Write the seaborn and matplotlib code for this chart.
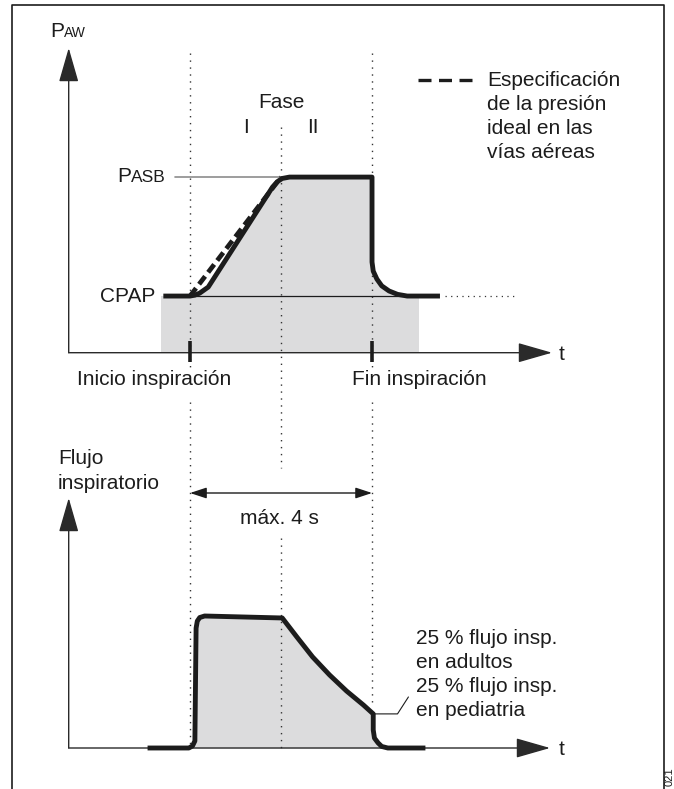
import matplotlib
matplotlib.use("Agg")
import matplotlib.pyplot as plt
from matplotlib.transforms import blended_transform_factory
import seaborn as sns

# ── data: time units, airway pressure (mbar), inspiratory flow (L/min) ──────
t_start, t_phase, t_end = 1.0, 1.75, 2.5
cpap = 5.0
pasb = 15.5

press_t = [0.78, 1.00, 1.04, 1.08, 1.15, 1.68, 1.72, 1.76, 1.82, 2.50, 2.50,
           2.51, 2.54, 2.58, 2.64, 2.71, 2.79, 3.06]
press_p = [5.0, 5.0, 5.08, 5.26, 5.79, 14.62, 15.1, 15.38, 15.5, 15.5, 8.0,
           7.2, 6.5, 5.9, 5.45, 5.15, 5.0, 5.0]
ideal_t = [1.00, 1.75]
ideal_p = [5.0, 15.5]
cpap_dotted_t = [3.10, 3.68]
base_fill_t = [0.76, 2.89]

flow_t = [0.65, 0.99, 1.02, 1.04, 1.05, 1.06, 1.08, 1.12, 1.76, 1.88, 2.01,
          2.15, 2.29, 2.43, 2.51, 2.51, 2.52, 2.55, 2.58, 2.63, 2.94]
flow_v = [0, 0, 0.9, 3.2, 54.5, 57.7, 59.3, 60.0, 59.1, 50.5, 41.4,
          33.2, 25.9, 19.5, 15.5, 8.2, 4.5, 2.3, 0.7, 0, 0]
leader_t = [2.51, 2.71, 2.80]
leader_f = [15.5, 15.5, 23.2]

legend_lines = ["Especificación", "de la presión", "ideal en las", "vías aéreas"]
note_lines = ["25 % flujo insp.", "en adultos", "25 % flujo insp.", "en pediatria"]

# ── layout (figure pixels) ───────────────────────────────────────────────────
W, H = 674, 789
X0, KX = 68.7, 121.33      # px of t=0, px per time unit
P0, KP = 352.7, 11.33      # px of p=0, px per mbar
F0, KF = 748.0, 2.2        # px of flow=0, px per L/min
INK = "#1c1c1c"
GREY = "#dcdcdd"
FS = 15

sns.set_theme(style="white")
plt.rcParams["font.family"] = ["Liberation Sans", "DejaVu Sans"]
plt.rcParams["text.color"] = INK

fig = plt.figure(figsize=(W / 100, H / 100), dpi=100)
ax0 = fig.add_axes([0, 0, 1, 1])
ax1 = fig.add_axes([0, 0, 1, 1])
ax2 = fig.add_axes([0, 0, 1, 1])
for ax in (ax0, ax1, ax2):
    ax.set_axis_off()
    ax.set_autoscale_on(False)
ax0.set_xlim(0, W)
ax0.set_ylim(H, 0)
ax1.set_xlim(-X0 / KX, (W - X0) / KX)
ax1.set_ylim((P0 - H) / KP, P0 / KP)
ax2.set_xlim(-X0 / KX, (W - X0) / KX)
ax2.set_ylim((F0 - H) / KF, F0 / KF)

bt1 = blended_transform_factory(ax1.transData, ax0.transData)
bt2 = blended_transform_factory(ax2.transData, ax0.transData)
dot_kw = dict(color="#333333", lw=1.0, linestyle=(0, (1, 4)), zorder=2)


def axis_arrow(ax, start, tip, hl=21.6, hw=6.2):
    ax.annotate("", xy=tip, xytext=start, annotation_clip=False,
                arrowprops=dict(arrowstyle=f"-|>,head_length={hl},head_width={hw}",
                                mutation_scale=1, lw=1.0, color="#2a2a2a",
                                shrinkA=0, shrinkB=0))


# ── top: airway pressure ─────────────────────────────────────────────────────
ax1.fill_between(base_fill_t, 0, cpap, color=GREY, lw=0, zorder=1)
ax1.fill_between(press_t, cpap, press_p, color=GREY, lw=0, zorder=1)
for t, seg in [(t_start, (53, 370)), (t_phase, (127, 468)), (t_end, (53, 370))]:
    ax1.plot([t, t], seg, transform=bt1, **dot_kw)
ax1.plot([t_start, base_fill_t[1]], [cpap, cpap], color=INK, lw=0.9, zorder=3)
ax1.plot([0.876, t_phase], [pasb, pasb], color="#8c8c8c", lw=1.2, zorder=3)
ax1.plot(cpap_dotted_t, [cpap, cpap], color="#333333", lw=0.9,
         linestyle=(0, (1, 3.5)), zorder=3)
ax1.plot(ideal_t, ideal_p, color=INK, lw=3.4, linestyle=(0, (2.1, 1.06)),
         dash_capstyle="butt", zorder=4)
sns.lineplot(x=press_t, y=press_p, sort=False, estimator=None, color=INK,
             lw=3.5, solid_joinstyle="round", solid_capstyle="butt",
             zorder=5, ax=ax1)
ax1.vlines([t_start, t_end], -0.82, 1.03, color=INK, lw=2.6, zorder=5)
axis_arrow(ax1, (0, 0), ((552 - X0) / KX, 0))
axis_arrow(ax1, (0, 0), (0, (P0 - 48) / KP))

# ── bottom: inspiratory flow ─────────────────────────────────────────────────
ax2.fill_between(flow_t, 0, flow_v, color=GREY, lw=0, zorder=1)
for t, seg in [(t_start, (402, 745)), (t_phase, (538, 748)), (t_end, (402, 705))]:
    ax2.plot([t, t], seg, transform=bt2, **dot_kw)
sns.lineplot(x=flow_t, y=flow_v, sort=False, estimator=None, color=INK,
             lw=3.5, solid_joinstyle="round", solid_capstyle="butt",
             zorder=5, ax=ax2)
ax2.plot(leader_t, leader_f, color=INK, lw=0.8, zorder=3)
axis_arrow(ax2, (0, 0), ((550 - X0) / KX, 0))
axis_arrow(ax2, (0, 0), (0, (F0 - 498) / KF))
f_arr = (F0 - 493) / KF
ax2.annotate("", xy=(t_end, f_arr), xytext=(t_start, f_arr), annotation_clip=False,
             arrowprops=dict(arrowstyle="<|-|>,head_length=10,head_width=3.3",
                             mutation_scale=1, lw=1.0, color=INK,
                             shrinkA=0, shrinkB=0))

# ── frame and labels ─────────────────────────────────────────────────────────
ax0.plot([12, 12, 664, 664], [H, 5, 5, H], color=INK, lw=1.2)
ax0.plot([418, 472], [80, 80], color=INK, lw=2.4, linestyle=(0, (3.9, 2.25)),
         dash_capstyle="butt")

ax0.text(50, 37, "P", fontsize=FS, va="baseline")
ax0.text(64, 37, "AW", fontsize=10, va="baseline")
ax0.text(117, 182, "P", fontsize=FS, va="baseline")
ax0.text(131, 182, "ASB", fontsize=12.5, va="baseline")
ax0.text(155, 302, "CPAP", fontsize=FS, ha="right", va="baseline")
ax0.text(281, 108, "Fase", fontsize=FS, ha="center", va="baseline")
ax0.text(246, 133, "I", fontsize=FS, ha="center", va="baseline")
ax0.text(313, 133, "II", fontsize=FS, ha="center", va="baseline")
for i, line in enumerate(legend_lines):
    ax0.text(487, 86 + i * 24, line, fontsize=FS, va="baseline")
ax0.text(77, 385, "Inicio inspiración", fontsize=FS, va="baseline")
ax0.text(352, 385, "Fin inspiración", fontsize=FS, va="baseline")
ax0.text(559, 360, "t", fontsize=FS, va="baseline")
ax0.text(58, 464, "Flujo", fontsize=FS, va="baseline")
ax0.text(58, 489, "inspiratorio", fontsize=FS, va="baseline")
ax0.text(279, 524, "máx. 4 s", fontsize=FS, ha="center", va="baseline")
for i, line in enumerate(note_lines):
    ax0.text(416, 644 + i * 24, line, fontsize=FS, va="baseline")
ax0.text(559, 755, "t", fontsize=FS, va="baseline")
ax0.text(670, 786, "021", fontsize=8, rotation=90, ha="center", va="bottom")

fig.savefig("out.png", dpi=100, facecolor="white")
